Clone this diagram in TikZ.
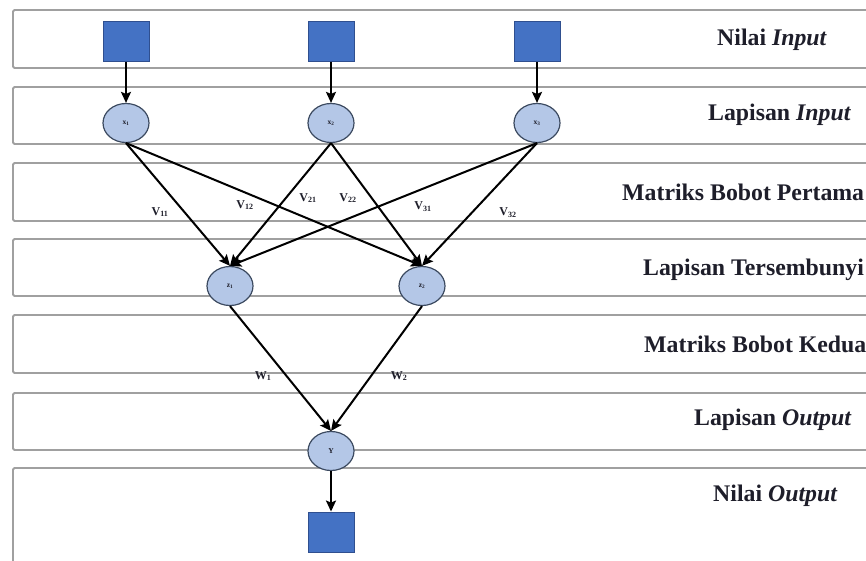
\documentclass[tikz,border=0pt]{standalone}
\usepackage{fontspec}
\setmainfont{Liberation Serif}
\usetikzlibrary{arrows.meta,shapes.geometric}
\definecolor{sqfill}{HTML}{4472C4}
\definecolor{sqdraw}{HTML}{2F4F8F}
\definecolor{nfill}{HTML}{B4C7E7}
\definecolor{ndraw}{HTML}{3C4A60}
\definecolor{bandgray}{HTML}{A0A0A0}
\definecolor{txt}{HTML}{1E1E2A}
\begin{document}
\begin{tikzpicture}[x=1pt,y=-1pt,
  band/.style={draw=bandgray, line width=1.8pt, rounded corners=1.5pt},
  sq/.style={rectangle, draw=sqdraw, fill=sqfill, line width=0.9pt, minimum width=46pt, minimum height=40pt, inner sep=0pt},
  neuron/.style={ellipse, draw=ndraw, fill=nfill, line width=1.2pt, minimum width=46pt, minimum height=39pt, inner sep=0pt, text=txt, font=\bfseries\fontsize{7.5}{7.5}\selectfont},
  conn/.style={-{Stealth[length=11pt,width=10pt,inset=2pt]}, line width=2pt, black},
  wlabel/.style={text=txt, font=\bfseries\fontsize{12}{12}\selectfont, inner sep=0pt},
  layerlabel/.style={anchor=base west, inner sep=0pt, text=txt, font=\bfseries\fontsize{23.8}{23.8}\selectfont}
]
\clip (0,0) rectangle (866,560);
\fill[white] (0,0) rectangle (866,560);
% bands
\draw[band] (13,10) rectangle (900,68);
\draw[band] (13,87) rectangle (900,144);
\draw[band] (13,163) rectangle (900,221);
\draw[band] (13,239) rectangle (900,296);
\draw[band] (13,315) rectangle (900,373);
\draw[band] (13,393) rectangle (900,450);
\draw[band] (13,468) rectangle (900,590);
% layer labels
\node[layerlabel] (l1) at (717,45) {Nilai \textit{Input}};
\node[layerlabel] (l2) at (708,120) {Lapisan \textit{Input}};
\node[layerlabel] (l3) at (622,200) {Matriks Bobot Pertama};
\node[layerlabel] (l4) at (643,275) {Lapisan Tersembunyi};
\node[layerlabel] (l5) at (644,352) {Matriks Bobot Kedua};
\node[layerlabel] (l6) at (694,425) {Lapisan \textit{Output}};
\node[layerlabel] (l7) at (713,501) {Nilai \textit{Output}};
% input squares
\node[sq] (s1) at (126,41.5) {};
\node[sq] (s2) at (331,41.5) {};
\node[sq] (s3) at (537,41.5) {};
% input neurons
\node[neuron] (x1) at (126,123) {x\textsubscript{1}};
\node[neuron] (x2) at (331,123) {x\textsubscript{2}};
\node[neuron] (x3) at (537,123) {x\textsubscript{3}};
% hidden neurons
\node[neuron] (z1) at (230,286) {z\textsubscript{1}};
\node[neuron] (z2) at (422,286) {z\textsubscript{2}};
% output neuron
\node[neuron] (y) at (331,451) {Y};
% output square
\node[sq] (so) at (331,532) {};
% connectors
\draw[conn] (s1) -- (x1);
\draw[conn] (s2) -- (x2);
\draw[conn] (s3) -- (x3);
\draw[conn] (x1.south) -- (z1.north);
\draw[conn] (x1.south) -- (z2.north);
\draw[conn] (x2.south) -- (z1.north);
\draw[conn] (x2.south) -- (z2.north);
\draw[conn] (x3.south) -- (z1.north);
\draw[conn] (x3.south) -- (z2.north);
\draw[conn] (z1.south) -- (y.north);
\draw[conn] (z2.south) -- (y.north);
\draw[conn] (y) -- (so);
% weight labels
\node[wlabel] (v11) at (160,212) {V\textsubscript{11}};
\node[wlabel] (v12) at (245,205) {V\textsubscript{12}};
\node[wlabel] (v21) at (308,198) {V\textsubscript{21}};
\node[wlabel] (v22) at (348,198) {V\textsubscript{22}};
\node[wlabel] (v31) at (423,207) {V\textsubscript{31}};
\node[wlabel] (v32) at (508,213) {V\textsubscript{32}};
\node[wlabel] (w1) at (263,376) {W\textsubscript{1}};
\node[wlabel] (w2) at (399,376) {W\textsubscript{2}};
\end{tikzpicture}
\end{document}
